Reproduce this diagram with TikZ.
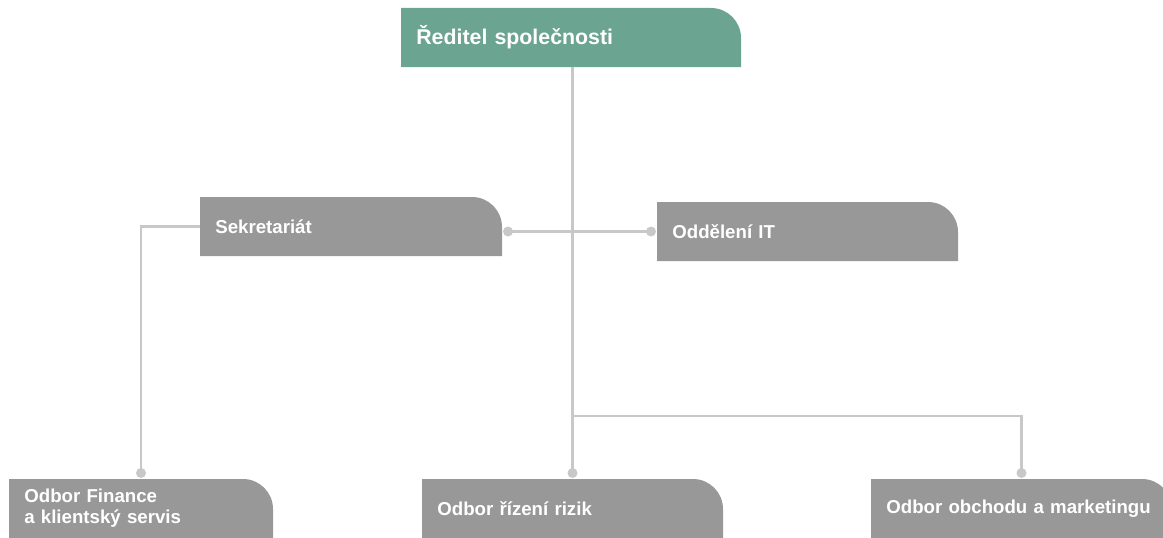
\documentclass[tikz,border=0pt]{standalone}
\usepackage{fontspec}
\setmainfont{Liberation Sans}
\usepackage{xcolor}
\usetikzlibrary{backgrounds}

\definecolor{boxgreen}{HTML}{6BA490}
\definecolor{boxgray}{HTML}{989898}
\definecolor{linegray}{HTML}{C8C8C8}

\tikzset{
	orgbox/.style={anchor=north west, text width=#1, minimum height=44.25pt,
		inner xsep=11.5pt, inner ysep=0pt, outer sep=0pt, align=left,
		text=white, font=\bfseries\fontsize{14}{15.75}\selectfont},
	conn/.style={linegray, line width=2pt},
	joint/.style={fill=linegray}
}

\begin{document}
\begin{tikzpicture}[x=0.75pt, y=0.75pt]
			\useasboundingbox (0,0) rectangle (1163,537);
			% boxes
			\node[orgbox=232pt, font=\bfseries\fontsize{16}{19}\selectfont] (dir) at (401,529) {Ředitel společnosti};
			\node[orgbox=203.5pt] (sekr) at (200,340) {Sekretariát};
			\node[orgbox=202.75pt] (it) at (657,335) {Oddělení IT};
			\node[orgbox=175pt] (fin) at (9,58) {Odbor Finance\\a klientský servis};
			\node[orgbox=202.75pt] (riz) at (422,58) {Odbor řízení rizik};
			\node[orgbox=202.75pt] (obch) at (871,58) {Odbor obchodu a marketingu};

			\begin{scope}[on background layer]
				\foreach \n/\c in {dir/boxgreen, sekr/boxgray, it/boxgray, fin/boxgray, riz/boxgray, obch/boxgray}
				{
					\fill[\c] (\n.south west) -- (\n.north west) -- ([xshift=-22.5pt]\n.north east)
						arc[start angle=90, end angle=0, radius=22.5pt] -- (\n.south east) -- cycle;
				}
			\end{scope}

			% connectors
			\coordinate (split) at (572.5,121);
			\draw[conn] (dir.south -| riz.north) -- ([yshift=4.5pt]riz.north);
			\draw[conn] (split) -| ([yshift=4.5pt]obch.north);
			\draw[conn] ([xshift=4.5pt]sekr.east |- it.west) -- ([xshift=-4.5pt]it.west);
			\draw[conn] (sekr.west) -| ([yshift=4.5pt]fin.north);

			\fill[joint] ([yshift=4.5pt]riz.north) circle (3.75pt);
			\fill[joint] ([yshift=4.5pt]obch.north) circle (3.75pt);
			\fill[joint] ([yshift=4.5pt]fin.north) circle (3.75pt);
			\fill[joint] ([xshift=4.5pt]sekr.east |- it.west) circle (3.75pt);
			\fill[joint] ([xshift=-4.5pt]it.west) circle (3.75pt);
		\end{tikzpicture}
\end{document}
